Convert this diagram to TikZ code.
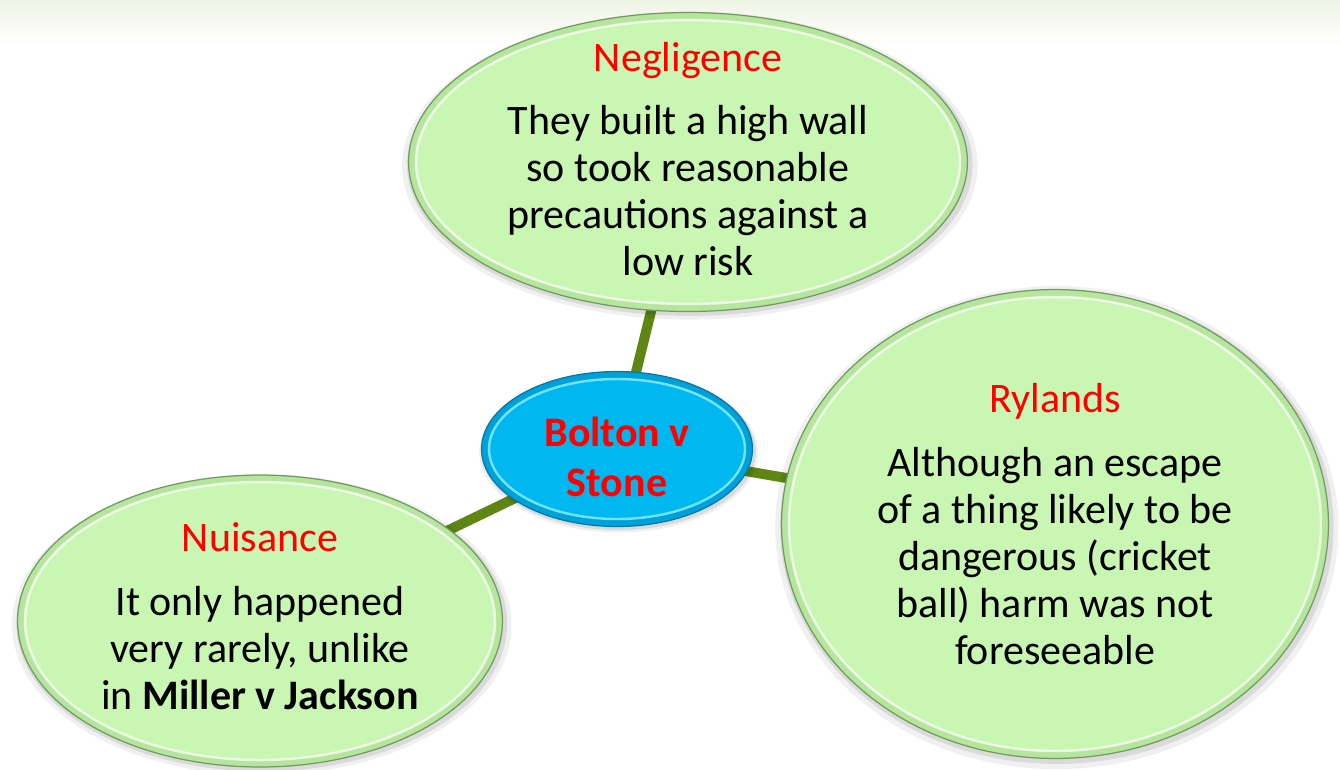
\documentclass[tikz,border=0pt]{standalone}
\usepackage{fontspec}
\setmainfont{Carlito}
\usetikzlibrary{shapes.geometric,shadows,backgrounds}

\definecolor{leafgreen}{HTML}{C9F6B2}
\definecolor{leafband}{HTML}{B6E59E}
\definecolor{leafrim}{HTML}{72995F}
\definecolor{hubblue}{HTML}{00B7EF}
\definecolor{hubband}{HTML}{00A0D8}
\definecolor{hubrim}{HTML}{0079A9}
\definecolor{hubshine}{HTML}{6FE3FF}
\definecolor{stemgreen}{HTML}{5F8514}
\definecolor{topband}{HTML}{EFF4E4}

\tikzset{
  softshadow/.style={
    general shadow={fill=black, opacity=.06, shadow scale=1.03, shadow xshift=1pt, shadow yshift=-2pt},
    general shadow={fill=black, opacity=.09, shadow scale=1.012, shadow xshift=1pt, shadow yshift=-1.5pt}},
  leaf/.style={ellipse, inner sep=0pt, fill=leafband, draw=leafrim, line width=0.7pt, softshadow},
  hub/.style={ellipse, inner sep=0pt, fill=hubband, draw=hubrim, line width=0.7pt, softshadow},
  stem/.style={stemgreen, line width=5.7pt},
  txt/.style={align=center, inner sep=0pt, font=\fontsize{23.9}{26.75}\selectfont}
}

\begin{document}
\begin{tikzpicture}[x=0.02cm, y=-0.02cm]
      \useasboundingbox (0,0) rectangle (1340,769);

      % the four bubbles
      \node[leaf, minimum width=11.18cm, minimum height=5.98cm] (neg) at (688,162) {};
      \node[hub, minimum width=5.42cm, minimum height=3.10cm] (bolton) at (617,449) {};
      \node[leaf, minimum width=10.94cm, minimum height=9.38cm] (rylands) at (1055,524) {};
      \node[leaf, minimum width=9.70cm, minimum height=5.84cm] (nuisance) at (260,621) {};

      % glossy inner faces
      \fill[leafgreen, draw=white, draw opacity=.7, line width=1.4pt] (neg.center) ellipse[x radius=272, y radius=142];
      \fill[hubblue, draw=hubshine, line width=1.4pt] (bolton.center) ellipse[x radius=128, y radius=70];
      \fill[leafgreen, draw=white, draw opacity=.7, line width=1.4pt] (rylands.center) ellipse[x radius=266, y radius=227];
      \fill[leafgreen, draw=white, draw opacity=.7, line width=1.4pt] (nuisance.center) ellipse[x radius=235, y radius=139];

      \begin{pgfonlayer}{background}
        \fill[white] (0,0) rectangle (1340,769);
        \shade[top color=topband, bottom color=white] (0,0) rectangle (1340,45);
        \draw[stem] (bolton.center) -- (neg.center);
        \draw[stem] (bolton.center) -- (rylands.center);
        \draw[stem] (bolton.center) -- (nuisance.center);
      \end{pgfonlayer}

      \node[txt] (neg-txt) at (688,159)
        {\textcolor{red}{Negligence}\\[9pt]They built a high wall\\so took reasonable\\precautions against a\\low risk};
      \node[txt, text=red, font=\fontsize{23.9}{28.5}\selectfont\bfseries] (bolton-txt) at (617,457)
        {Bolton v\\Stone};
      \node[txt] (rylands-txt) at (1055,524)
        {\textcolor{red}{Rylands}\\[10pt]Although an escape\\of a thing likely to be\\dangerous (cricket\\ball) harm was not\\foreseeable};
      \node[txt] (nuisance-txt) at (260,616)
        {\textcolor{red}{Nuisance}\\[10pt]It only happened\\very rarely, unlike\\in \textbf{Miller v Jackson}};
\end{tikzpicture}
\end{document}
